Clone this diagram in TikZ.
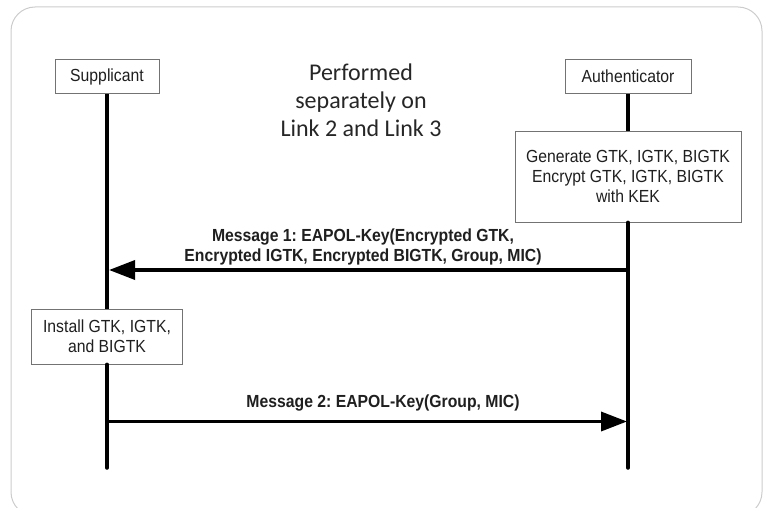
\documentclass[tikz,border=0pt]{standalone}
\usepackage{fontspec}
\setmainfont[FakeStretch=0.9]{Liberation Sans}
\newfontfamily\calib{Carlito}
\usetikzlibrary{arrows.meta}
\frenchspacing
\begin{document}
\begin{tikzpicture}[x=1pt,y=-1pt,
  actor/.style={draw=black!55, line width=0.8pt, fill=white, minimum height=34pt, inner sep=0pt, font=\fontsize{17.5}{20}\selectfont, text=black!88},
  procbox/.style={draw=black!55, line width=0.8pt, fill=white, align=center, inner sep=0pt, font=\fontsize{17.5}{20}\selectfont, text=black!88},
  life/.style={line width=3.5pt},
  msg/.style={line width=3.5pt, -{Triangle[length=26pt,width=19pt]}},
  msglabel/.style={font=\bfseries\fontsize{17.5}{20}\selectfont, align=center, text=black!88, inner sep=0pt}]
\useasboundingbox (0,0) rectangle (765,508);
\draw[black!20, line width=1pt, rounded corners=24pt] (11,7) rectangle (762,516);
% actors
\node[actor, minimum width=104pt] (sup) at (107,76.5) {Supplicant};
\node[actor, minimum width=126pt] (aut) at (628,76.5) {Authenticator};
% title
\node[font=\calib\fontsize{24}{28}\selectfont, align=center, text=black!85, inner sep=0pt] (title) at (361,100) {Performed\\separately on\\Link 2 and Link 3};
% process boxes
\node[procbox, minimum width=226pt, minimum height=91pt] (gen) at (628,176.5) {Generate GTK, IGTK, BIGTK\\Encrypt GTK, IGTK, BIGTK\\with KEK};
\node[procbox, minimum width=151pt, minimum height=55pt] (inst) at (107,336.5) {Install GTK, IGTK,\\and BIGTK};
% lifeline ends
\coordinate (supEnd) at (107,468);
\coordinate (autEnd) at (628,468);
\draw[life] (sup.south) -- (inst.north);
\draw[life, line cap=round] (inst.south) -- (supEnd);
\draw[life] (aut.south) -- (gen.north);
\draw[life, line cap=round] (gen.south) -- (autEnd);
% messages
\coordinate (m1a) at (628,270);
\coordinate (m1b) at (109,270);
\coordinate (m2a) at (107,421.5);
\coordinate (m2b) at (627,421.5);
\draw[msg] (m1a) -- (m1b);
\draw[msg] (m2a) -- (m2b);
\node[msglabel] (l1) at (363,247) {Message 1: EAPOL-Key(Encrypted GTK,\\Encrypted IGTK, Encrypted BIGTK, Group, MIC)};
\node[msglabel] (l2) at (383,403) {Message 2: EAPOL-Key(Group, MIC)};
\end{tikzpicture}
\end{document}
